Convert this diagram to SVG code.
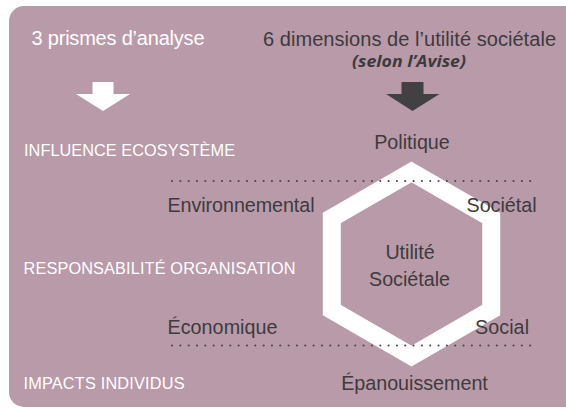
<svg xmlns="http://www.w3.org/2000/svg" width="566" height="408" viewBox="0 0 566 408">
<style>
.w{fill:#ffffff;font-family:"Liberation Sans",Arial,sans-serif}
.d{fill:#3d3b3e;font-family:"Liberation Sans",Arial,sans-serif}
.cap{font-size:16.3px}
.lab{font-size:19.7px}
.dot{fill:none;stroke:#4a4548;stroke-width:2.1;stroke-linecap:round;stroke-dasharray:0 8.33}
</style>
<rect x="0" y="0" width="566" height="408" fill="#ffffff"/>
<rect id="panel" x="9" y="6" width="571" height="401" rx="15" ry="15" fill="#b99aa8"/>
<g id="hexagon">
<polygon points="411.5,172 491.2,218 491.2,310 411.5,356 331.8,310 331.8,218" fill="none" stroke="#ffffff" stroke-width="18" stroke-linejoin="miter" stroke-miterlimit="4"/>
</g>
<g id="connectors">
<polygon id="arrow-left" points="92.5,82 113.5,82 113.5,94 130,94 103,111 76,94 92.5,94" fill="#ffffff"/>
<polygon id="arrow-right" points="401.5,82 423.5,82 423.5,94 439.5,94 412.5,111 386,94 401.5,94" fill="#414042"/>
<line class="dot" x1="172" y1="181" x2="537" y2="181"/>
<line class="dot" x1="172" y1="345.5" x2="537" y2="345.5"/>
</g>
<g id="header-left"><text class="w" x="31.5" y="44.5" font-size="20" textLength="173">3 prismes d’analyse</text></g>
<g id="header-right">
<text class="d" x="263" y="45.5" font-size="20" textLength="293">6 dimensions de l’utilité sociétale</text>
<text class="d" x="352" y="66.5" font-size="16" font-weight="bold" font-style="italic" style="font-family:'Open Sans','Liberation Sans',sans-serif" textLength="114" lengthAdjust="spacingAndGlyphs">(selon l’Avise)</text>
</g>
<g id="prism-1"><text class="w cap" x="24" y="156" textLength="211">INFLUENCE ECOSYSTÈME</text></g>
<g id="prism-2"><text class="w cap" x="23.5" y="274" textLength="272">RESPONSABILITÉ ORGANISATION</text></g>
<g id="prism-3"><text class="w cap" x="23.5" y="388.5" textLength="161">IMPACTS INDIVIDUS</text></g>
<g id="dim-politique"><text class="d lab" x="412" y="149" text-anchor="middle">Politique</text></g>
<g id="dim-environnemental"><text class="d lab" x="167.5" y="211.5" textLength="147">Environnemental</text></g>
<g id="dim-societal"><text class="d lab" x="466.5" y="211.5" textLength="70">Sociétal</text></g>
<g id="center"><text class="d lab" x="410" y="259" text-anchor="middle">Utilité</text><text class="d lab" x="409.5" y="286" text-anchor="middle">Sociétale</text></g>
<g id="dim-economique"><text class="d lab" x="167.5" y="333.5" textLength="110">Économique</text></g>
<g id="dim-social"><text class="d lab" x="475" y="333.5" textLength="54">Social</text></g>
<g id="dim-epanouissement"><text class="d lab" x="414.5" y="390" text-anchor="middle">Épanouissement</text></g>
</svg>
